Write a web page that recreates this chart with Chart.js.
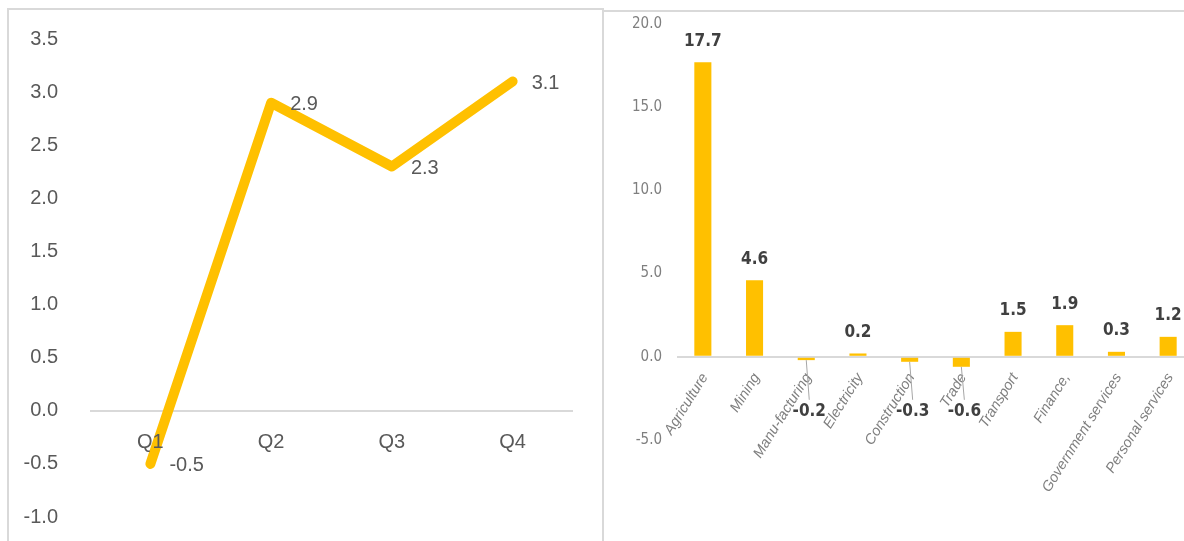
<!DOCTYPE html>
<html>
<head>
<meta charset="utf-8">
<script src="https://cdn.jsdelivr.net/npm/chart.js@4.4.1/dist/chart.umd.min.js"></script>
<style>
  html, body { margin: 0; padding: 0; background: #fff; }
  body { width: 1184px; height: 541px; overflow: hidden; position: relative; }
  .frame-left { position: absolute; left: 7px; top: 8px; width: 597px; height: 600px; box-sizing: border-box; border: 2px solid #d9d9d9; }
  .frame-right { position: absolute; left: 604px; top: 10px; width: 620px; height: 600px; border-top: 2px solid #d9d9d9; }
  .wrap { position: absolute; }
  /* the left canvas runs a little past the window so the plot area lines up */
  #wrapLeft { left: 0; top: -5px; width: 600px; height: 566px; }
  #wrapRight { left: 603px; top: 0; width: 600px; height: 541px; }
</style>
</head>
<body>
<div class="frame-left"></div>
<div class="frame-right"></div>
<div class="wrap" id="wrapLeft"><canvas id="quarterly"></canvas></div>
<div class="wrap" id="wrapRight"><canvas id="sectors"></canvas></div>
<script>
const quarters = ['Q1', 'Q2', 'Q3', 'Q4'];
const growth = [-0.5, 2.9, 2.3, 3.1];

const sectors = ['Agriculture', 'Mining', 'Manu-facturing', 'Electricity', 'Construction',
    'Trade', 'Transport', 'Finance,', 'Government services', 'Personal services'];
const contributions = [17.7, 4.6, -0.2, 0.2, -0.3, -0.6, 1.5, 1.9, 0.3, 1.2];

const gold = '#FFC000';
const zeroLine = '#d9d9d9';

// only the zero grid line is drawn
const zeroGrid = {
    drawTicks: false,
    lineWidth: 2,
    color: ctx => (ctx.tick && ctx.tick.value === 0) ? zeroLine : 'rgba(0,0,0,0)'
};

// labels for the line chart: values beside the points, quarters under the zero line
const quarterLabels = {
    id: 'quarterLabels',
    afterDatasetsDraw(chart) {
        const ctx = chart.ctx;
        const x = chart.scales.x, y = chart.scales.y;
        const y0 = y.getPixelForValue(0);
        ctx.save();
        ctx.fillStyle = '#595959';
        ctx.font = '20px "Liberation Sans", Arial, sans-serif';
        ctx.textBaseline = 'middle';
        ctx.textAlign = 'center';
        quarters.forEach((q, i) => {
            ctx.fillText(q, x.getPixelForValue(i), y0 + 32);
        });
        ctx.textAlign = 'left';
        chart.getDatasetMeta(0).data.forEach((pt, i) => {
            ctx.fillText(growth[i].toFixed(1), pt.x + 19, pt.y + 2);
        });
        ctx.restore();
    }
};

// labels for the bar chart: slanted sector names and bold values
const sectorLabels = {
    id: 'sectorLabels',
    afterDatasetsDraw(chart) {
        const ctx = chart.ctx;
        const y = chart.scales.y;
        const y0 = y.getPixelForValue(0);
        ctx.save();
        chart.getDatasetMeta(0).data.forEach((bar, i) => {
            const v = contributions[i];
            // category name
            ctx.save();
            ctx.translate(bar.x + 2, y0 + 18);
            ctx.rotate(-58 * Math.PI / 180);
            ctx.fillStyle = '#7f7f7f';
            ctx.font = 'italic 14.5px "Liberation Sans", Arial, sans-serif';
            ctx.textAlign = 'right';
            ctx.textBaseline = 'middle';
            ctx.fillText(sectors[i], 0, 0);
            ctx.restore();

            // value
            ctx.fillStyle = '#404040';
            ctx.font = 'bold 17px "Liberation Sans Narrow", "DejaVu Sans Condensed", sans-serif';
            ctx.textAlign = 'center';
            ctx.textBaseline = 'middle';
            if (v >= 0) {
                ctx.fillText(v.toFixed(1), bar.x, bar.y - 21);
            } else {
                const lx = bar.x + 3, ly = y0 + 55;
                ctx.strokeStyle = '#a6a6a6';
                ctx.lineWidth = 1;
                ctx.beginPath();
                ctx.moveTo(bar.x, bar.y);
                ctx.lineTo(lx, ly - 12);
                ctx.stroke();
                ctx.fillText(v.toFixed(1), lx, ly);
            }
        });
        ctx.restore();
    }
};

new Chart(document.getElementById('quarterly'), {
    type: 'line',
    data: {
        labels: quarters,
        datasets: [{
            data: growth,
            borderColor: gold,
            borderWidth: 10,
            borderCapStyle: 'round',
            borderJoinStyle: 'round',
            pointRadius: 0,
            tension: 0,
            fill: false
        }]
    },
    options: {
        responsive: true,
        maintainAspectRatio: false,
        animation: false,
        layout: { padding: { left: 0, right: 27, top: 20, bottom: 20 } },
        plugins: { legend: { display: false }, tooltip: { enabled: false } },
        scales: {
            x: { display: false, offset: true },
            y: {
                min: -1, max: 3.5,
                afterFit: s => { s.width = 90; },
                border: { display: false },
                grid: zeroGrid,
                ticks: {
                    stepSize: 0.5,
                    padding: 32,
                    color: '#595959',
                    font: { family: '"Liberation Sans", Arial, sans-serif', size: 20 },
                    callback: v => v.toFixed(1)
                }
            }
        }
    },
    plugins: [quarterLabels]
});

new Chart(document.getElementById('sectors'), {
    type: 'bar',
    data: {
        labels: sectors,
        datasets: [{
            data: contributions,
            backgroundColor: gold,
            barPercentage: 0.33,
            categoryPercentage: 1
        }]
    },
    options: {
        responsive: true,
        maintainAspectRatio: false,
        animation: false,
        layout: { padding: { left: 0, right: 9, top: 24, bottom: 101 } },
        plugins: { legend: { display: false }, tooltip: { enabled: false } },
        scales: {
            x: { display: false },
            y: {
                min: -5, max: 20,
                afterFit: s => { s.width = 74; },
                border: { display: false },
                grid: zeroGrid,
                ticks: {
                    stepSize: 5,
                    padding: 15,
                    color: '#7f7f7f',
                    font: { family: '"Liberation Sans Narrow", "DejaVu Sans Condensed", sans-serif', size: 15 },
                    callback: v => v.toFixed(1)
                }
            }
        }
    },
    plugins: [sectorLabels]
});
</script>
</body>
</html>
